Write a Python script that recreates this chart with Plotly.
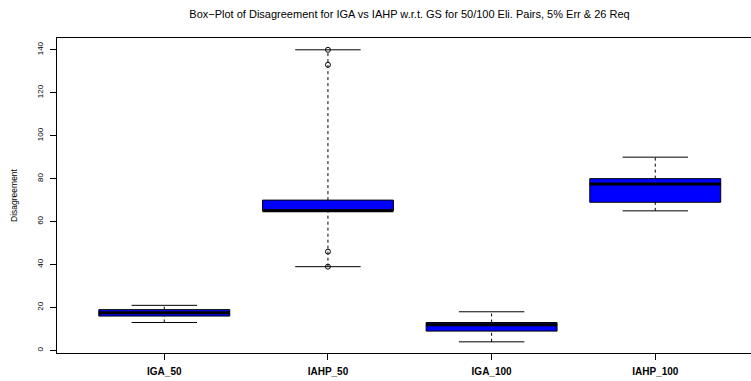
import plotly.graph_objects as go

# Summary statistics for each group
categories = ["IGA_50", "IAHP_50", "IGA_100", "IAHP_100"]
positions = [1, 2, 3, 4]
lower_whisker = [13, 39, 4, 65]
q1 = [16, 65, 9, 69]
median = [17.5, 65, 12, 77.5]
q3 = [19, 70, 13, 80]
upper_whisker = [21, 140, 18, 90]

# Individually plotted points (group position, value)
outlier_pos = [2, 2, 2, 2]
outlier_val = [140, 133, 46, 39]

y_ticks = [0, 20, 40, 60, 80, 100, 120, 140]

BOX_W = 0.8
STAPLE_HALF = 0.2
FONT = "Liberation Sans, Arial, sans-serif"

fig = go.Figure()

# Box bodies (whiskers drawn separately so they can be dashed)
fig.add_trace(go.Box(
    x=positions, q1=q1, median=median, q3=q3,
    lowerfence=q1, upperfence=q3,
    width=BOX_W, whiskerwidth=0,
    fillcolor="#0000FF",
    line=dict(color="#000000", width=1),
    boxpoints=False, hoverinfo="skip", showlegend=False,
))

# Thick median bars
mx, my = [], []
for p, m in zip(positions, median):
    mx += [p - BOX_W / 2, p + BOX_W / 2, None]
    my += [m, m, None]
fig.add_trace(go.Scatter(x=mx, y=my, mode="lines",
                         line=dict(color="#000000", width=3),
                         hoverinfo="skip", showlegend=False))

# Dashed whiskers
wx, wy = [], []
for p, lo, a, b, hi in zip(positions, lower_whisker, q1, q3, upper_whisker):
    wx += [p, p, None, p, p, None]
    wy += [lo, a, None, b, hi, None]
fig.add_trace(go.Scatter(x=wx, y=wy, mode="lines",
                         line=dict(color="#000000", width=1, dash="3px,3px"),
                         hoverinfo="skip", showlegend=False))

# Whisker staples
sx, sy = [], []
for p, lo, hi in zip(positions, lower_whisker, upper_whisker):
    sx += [p - STAPLE_HALF, p + STAPLE_HALF, None, p - STAPLE_HALF, p + STAPLE_HALF, None]
    sy += [lo, lo, None, hi, hi, None]
fig.add_trace(go.Scatter(x=sx, y=sy, mode="lines",
                         line=dict(color="#000000", width=1),
                         hoverinfo="skip", showlegend=False))

# Outlying points
fig.add_trace(go.Scatter(x=outlier_pos, y=outlier_val, mode="markers",
                         marker=dict(symbol="circle-open", size=5,
                                     color="#000000", line=dict(width=1)),
                         hoverinfo="skip", showlegend=False))

fig.update_layout(
    width=751, height=381,
    margin=dict(l=57, r=0, t=38, b=28),
    paper_bgcolor="white", plot_bgcolor="white",
    font=dict(family=FONT, color="#000000"),
    title=dict(
        text="Box\u2212Plot of Disagreement for IGA vs IAHP w.r.t. GS for 50/100 Eli. Pairs, 5% Err & 26 Req",
        xref="container", x=409.5 / 751, xanchor="center",
        yref="container", y=1 - 14 / 381, yanchor="middle",
        font=dict(size=11, family=FONT),
    ),
    xaxis=dict(
        range=[0.3445, 4.585],
        tickmode="array", tickvals=positions, ticktext=categories,
        tickfont=dict(size=10, family=FONT, weight="bold"),
        ticks="outside", ticklen=6, tickcolor="#000000", tickwidth=1,
        ticklabelstandoff=3,
        showline=True, linecolor="#000000", linewidth=1, mirror=True,
        showgrid=False, zeroline=False,
    ),
    yaxis=dict(
        range=[-1.2, 145.5],
        tickmode="array", tickvals=y_ticks,
        tickangle=-90,
        tickfont=dict(size=8, family=FONT),
        ticks="outside", ticklen=6, tickcolor="#000000", tickwidth=1,
        ticklabelstandoff=4,
        showline=True, linecolor="#000000", linewidth=1,
        showgrid=False, zeroline=False,
        title=dict(text="Disagreement", font=dict(size=8.5, family=FONT), standoff=16),
    ),
)

fig.write_html("out.html")
